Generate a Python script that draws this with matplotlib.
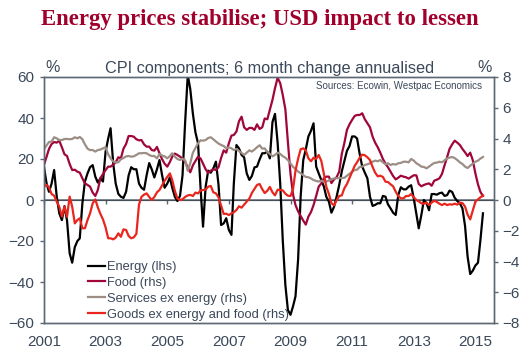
import matplotlib
matplotlib.use("Agg")
import matplotlib.pyplot as plt
import matplotlib.dates as mdates
import pandas as pd

plt.rcParams['font.family'] = ['Liberation Sans', 'DejaVu Sans']

# ---------------- data (monthly, Jan 2001 - Apr 2015) ----------------
start_month = '2001-01-01'

energy = [
    16, 8, 4, 8, 14.6, 1.6, -6.5, -9.8, -3, -10,
    -26, -30.6, -23, -20, -18.7, -1.6, 9, 13, 16, 17,
    11.4, 8.5, 10.6, 9, 23.6, 30, 35, 18, 8, 3,
    1.6, 1, 4, 12, 16, 15, 15, 8, 6, 5,
    12, 18, 15, 11, 15, 19.5, 12, 6, 8, 11,
    6, 1.6, -0.5, 2, 12, 38, 61, 54, 42, 33,
    27.6, 5, -13, 6.5, 14.3, 13.3, 15.4, 18.7, 7.3, -12.2,
    -11.4, -8.9, -14.6, -17, 8, 26.8, 25.2, 22, 20.8, 13,
    9.8, 11.7, 15.9, 16.3, 19.8, 22.8, 22.8, 23.6, 20.3, 38,
    42, 28, 8, -19.5, -41.5, -53.7, -56, -51.7, -47, -29,
    1.6, 19.5, 24.7, 31, 33.8, 37.4, 16.3, 13, 9.8, 6.5,
    1.6, -0.8, -6.2, -3.3, 1.6, 7.3, 14, 19, 24, 26.3,
    31, 31, 30, 22.4, 16.3, 13.3, 10.6, 1.6, -2.9, -2.4,
    -1.6, -1.6, 2, 1.6, -2.1, -4.1, -6.2, -7.3, 2.4, 6.2,
    5.2, 5.2, 6.5, 7.2, 0.8, -7, -13.8, -7.3, 0, -1.6,
    -5, 2.9, 2.9, 2.6, 3.3, 3.6, 2, 2.4, 4.6, 3.9,
    1.1, -0.5, -1.6, -4.1, -12.7, -27.6, -36.1, -34.5, -32, -30.6,
    -20, -6.5]

food = [
    2.3, 2.82, 3.32, 3.64, 3.77, 3.73, 3.86, 3.43, 2.97, 2.86,
    2.34, 1.95, 1.97, 1.84, 1.78, 1.41, 1.08, 0.98, 0.87, 0.48,
    0.26, 0.65, 1.43, 1.69, 1.95, 2.17, 2.17, 2.3, 2.45, 2.78,
    2.71, 3.34, 3.64, 4.16, 4.16, 4.12, 3.95, 3.88, 3.9, 3.62,
    3.47, 3.47, 3.25, 3.21, 3.45, 3.04, 2.65, 2.36, 2.17, 2.47,
    2.82, 3.02, 2.93, 2.82, 2.69, 2.47, 2.13, 1.8, 2.26, 2.54,
    2.82, 2.69, 2.36, 2.0, 1.76, 1.91, 2.0, 1.95, 2.13, 2.73,
    3.23, 3.08, 3.69, 4.19, 4.23, 4.45, 5.12, 5.42, 4.73, 4.56,
    4.69, 4.69, 4.56, 4.92, 4.62, 4.73, 5.3, 5.25, 5.86, 6.51,
    7.27, 7.95, 7.6, 6.83, 5.9, 3.77, 1.69, 0.33, -0.33, -0.74,
    -1.04, -1.34, -1.6, -1.08, -0.78, -0.33, 0.26, 0.87, 1.08, 1.41,
    1.52, 1.52, 1.1, 1.34, 1.48, 1.84, 3.0, 3.7, 4.56, 4.92,
    5.21, 5.47, 5.53, 5.53, 5.64, 5.25, 4.99, 4.73, 4.12, 3.73,
    3.43, 3.08, 2.67, 2.36, 2.13, 1.84, 1.56, 1.34, 1.45, 1.58,
    1.52, 1.48, 1.39, 1.5, 1.61, 1.6, 1.04, 0.89, 0.98, 1.04,
    1.08, 0.93, 1.26, 1.32, 1.41, 1.69, 2.26, 2.8, 3.32, 3.62,
    3.86, 3.73, 3.58, 3.32, 3.1, 2.86, 3.08, 2.6, 1.74, 1.02,
    0.54, 0.26]

services = [
    3.3, 3.56, 3.77, 3.8, 4.08, 4.01, 3.9, 3.9, 3.97, 3.97,
    3.95, 3.97, 4.08, 4.01, 4.1, 3.95, 3.62, 3.34, 3.25, 3.25,
    3.15, 3.25, 3.28, 3.36, 3.43, 2.97, 2.71, 2.5, 2.45, 2.45,
    2.65, 2.73, 2.84, 2.86, 2.82, 2.84, 2.93, 3.04, 3.04, 3.06,
    3.04, 2.93, 2.86, 2.86, 2.71, 2.99, 2.89, 2.84, 2.71, 2.86,
    3.04, 2.82, 2.67, 2.6, 2.69, 2.58, 1.9, 2.4, 3.08, 3.38,
    3.69, 3.88, 3.86, 3.9, 4.03, 4.08, 3.95, 3.8, 3.67, 3.58,
    3.51, 3.36, 3.43, 3.36, 3.25, 3.32, 3.19, 3.06, 2.93, 3.08,
    3.23, 3.15, 3.28, 3.43, 3.56, 3.34, 3.36, 3.12, 3.0, 2.84,
    2.93, 3.08, 3.0, 2.85, 2.75, 2.6, 2.38, 2.15, 2.02, 1.85,
    1.74, 1.61, 1.5, 1.48, 1.4, 1.3, 1.24, 1.2, 1.26, 1.2,
    1.2, 1.28, 1.35, 1.4, 1.42, 1.42, 1.44, 1.44, 1.58, 1.7,
    1.84, 1.95, 1.97, 2.15, 2.17, 2.28, 2.32, 2.39, 2.49, 2.56,
    2.52, 2.6, 2.45, 2.32, 2.39, 2.28, 2.34, 2.3, 2.39, 2.41,
    2.49, 2.49, 2.45, 2.67, 2.56, 2.39, 2.3, 2.17, 2.15, 2.06,
    2.17, 2.3, 2.41, 2.43, 2.49, 2.45, 2.58, 2.71, 2.75, 2.8,
    2.73, 2.6, 2.45, 2.34, 2.17, 2.08, 2.23, 2.36, 2.49, 2.56,
    2.69, 2.8]

goods = [
    0.87, 0.98, 0.82, 0.39, 0.28, -0.11, -0.43, -1.08, -0.43, -1.08,
    0.22, -0.43, -1.52, -1.3, -1.19, -1.84, -1.84, -1.3, -0.87, -0.22,
    0.04, -0.48, -0.91, -1.26, -1.78, -2.49, -2.49, -2.56, -2.45, -2.17,
    -2.39, -1.91, -1.95, -2.34, -2.49, -2.43, -2.2, -0.3, 0.2, 0.35,
    0.43, 0.2, 0.0, 0.2, 0.5, 0.65, 0.95, 1.25, 1.5, 1.73,
    1.3, 0.6, 0.1, 0.0, 0.05, 0.2, 0.3, 0.33, 0.26, 0.48,
    0.43, 0.63, 0.65, 0.67, 0.87, 0.91, 0.5, 0.43, 0.17, -0.35,
    -0.91, -0.89, -0.98, -0.87, -0.8, -0.65, -0.41, -0.5, -0.3, -0.11,
    0.09, 0.46, 0.72, 0.98, 1.04, 0.7, 0.45, 0.6, 0.85, 0.5,
    0.3, 0.67, 0.65, 0.63, 0.41, 0.28, 0.26, 0.74, 1.91, 2.69,
    3.3, 3.36, 3.23, 2.71, 2.52, 2.75, 2.67, 2.93, 2.54, 1.69,
    0.87, 0.39, -0.2, -0.35, -0.02, 0.26, 0.3, 0.76, 1.04, 1.43,
    1.84, 2.23, 2.45, 2.75, 2.95, 2.91, 2.78, 2.6, 2.15, 1.78,
    1.54, 1.58, 1.5, 1.19, 1.17, 1.02, 0.89, 0.54, 0.26, 0.11,
    0.11, 0.26, 0.26, 0.39, 0.17, 0.0, -0.09, -0.22, -0.24, -0.17,
    -0.33, -0.17, -0.04, -0.13, -0.24, -0.33, -0.24, -0.33, -0.28, -0.3,
    -0.24, -0.3, -0.17, -0.2, -0.43, -0.95, -1.26, -0.69, -0.11, 0.04,
    0.17, 0.3]

tick_years = [2001, 2003, 2005, 2007, 2009, 2011, 2013, 2015]
lhs_ticks = [-60, -40, -20, 0, 20, 40, 60]
rhs_ticks = [-8, -6, -4, -2, 0, 2, 4, 6, 8]
series_labels = ['Energy (lhs)', 'Food (rhs)', 'Services ex energy (rhs)',
                 'Goods ex energy and food (rhs)']

title = 'Energy prices stabilise; USD impact to lessen'
subtitle = 'CPI components; 6 month change annualised'
source = 'Sources: Ecowin, Westpac Economics'

# ---------------- styling ----------------
C_ENERGY = '#000000'
C_FOOD = '#A1063B'
C_SERV = '#9C8E84'
C_GOODS = '#E8261E'
C_AXIS = '#5C6874'
C_TEXT = '#3B4859'
C_TITLE = '#A1002C'
LW = 1.6

dates = pd.date_range(start_month, periods=len(energy), freq='MS')

fig = plt.figure(figsize=(5.25, 3.59), dpi=100)
W, H = 525.0, 359.0
ax = fig.add_axes([44 / W, 1 - 323 / H, 450 / W, 246 / H])

ax.axhline(0, color=C_AXIS, lw=1.1, zorder=1)
l1, = ax.plot(dates, energy, color=C_ENERGY, lw=LW, label=series_labels[0], zorder=2)
ax.set_ylim(-60, 60)
ax.set_yticks(lhs_ticks)
ax.set_xlim(pd.Timestamp('2001-01-01'), pd.Timestamp('2015-08-10'))
tick_dates = [pd.Timestamp(f'{y}-01-01') for y in tick_years]
ax.set_xticks(tick_dates)
ax.set_xticklabels([str(y) for y in tick_years])

ax2 = ax.twinx()
l2, = ax2.plot(dates, food, color=C_FOOD, lw=LW, label=series_labels[1])
l3, = ax2.plot(dates, services, color=C_SERV, lw=LW, label=series_labels[2])
l4, = ax2.plot(dates, goods, color=C_GOODS, lw=LW, label=series_labels[3])
ax2.set_ylim(-8, 8)
ax2.set_yticks(rhs_ticks)

for a in (ax, ax2):
    for s in a.spines.values():
        s.set_color(C_AXIS)
        s.set_linewidth(1.0)

ax.tick_params(axis='x', length=0, pad=8.5, labelsize=11, labelcolor=C_TEXT)
ax.tick_params(axis='y', direction='out', length=3, width=1, color=C_AXIS,
               pad=4, labelsize=11, labelcolor=C_TEXT)
ax2.tick_params(axis='y', direction='out', length=3, width=1, color=C_AXIS,
                pad=3, labelsize=11, labelcolor=C_TEXT)

# tick marks along the zero line
sec = ax.secondary_xaxis(0.5)
sec.set_xticks(mdates.date2num(tick_dates))
sec.tick_params(axis='x', direction='in', length=3, width=1, color=C_AXIS,
                labelbottom=False)
sec.spines['bottom'].set_visible(False)
sec.set_xticklabels([])

# texts
fig.text(260 / W, 1 - 19 / H, title, ha='center', va='center', fontsize=16.4,
         fontweight='bold', family=['Liberation Serif', 'DejaVu Serif'], color=C_TITLE)
fig.text(270 / W, 1 - 69 / H, subtitle, ha='center', va='center', fontsize=11.7,
         color=C_TEXT)
fig.text(52.5 / W, 1 - 68 / H, '%', ha='center', va='center', fontsize=11.5, color=C_TEXT)
fig.text(485 / W, 1 - 68 / H, '%', ha='center', va='center', fontsize=11.5, color=C_TEXT)
fig.text(482 / W, 1 - 86 / H, source, ha='right', va='center', fontsize=7, color=C_TEXT)

leg = ax2.legend([l1, l2, l3, l4], series_labels, loc='upper left',
                 bbox_to_anchor=(88 / W, 1 - 261 / H), bbox_transform=fig.transFigure,
                 frameon=False, fontsize=9.3, handlelength=1.35, handletextpad=0.15,
                 labelspacing=0.3, borderpad=0, borderaxespad=0)
for t in leg.get_texts():
    t.set_color(C_TEXT)

fig.savefig('out.png', dpi=100)
